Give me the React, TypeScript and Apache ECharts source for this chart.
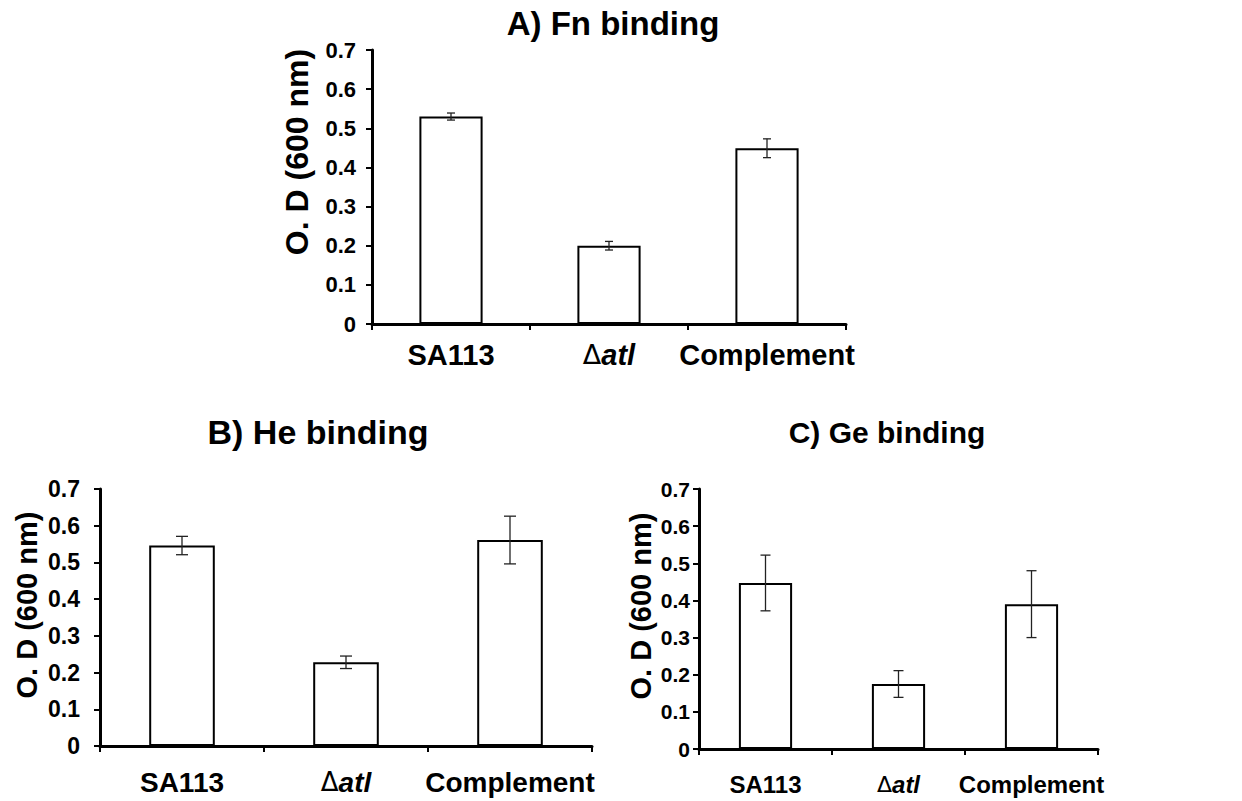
import React, { useEffect, useRef } from "react";
import * as echarts from "echarts";

const categories = ["SA113", "Δatl", "Complement"];
const yTicks = [0, 0.1, 0.2, 0.3, 0.4, 0.5, 0.6, 0.7];

const fnMeans = [0.53, 0.2, 0.449];
const fnErr = [0.009, 0.011, 0.024];
const heMeans = [0.546, 0.228, 0.561];
const heErr = [0.025, 0.017, 0.065];
const geMeans = [0.447, 0.175, 0.39];
const geErr = [0.075, 0.036, 0.09];

const titles = ["A) Fn binding", "B) He binding", "C) Ge binding"];
const yName = "O. D (600 nm)";

const FONT = "'Liberation Sans', Arial, sans-serif";

export default function App() {
  const ref = useRef<HTMLDivElement>(null);
  useEffect(() => {
    if (!ref.current) return;
    const chart = echarts.init(ref.current, null, { renderer: "svg" });

    const panels = [
      { grid: { left: 372, top: 50, width: 474, height: 274 }, means: fnMeans, err: fnErr, tick: 22, xl: 29, xm: 16, ym: 16, cap: 8 },
      { grid: { left: 100, top: 489, width: 492, height: 257 }, means: heMeans, err: heErr, tick: 23, xl: 28, xm: 22, ym: 20, cap: 12 },
      { grid: { left: 699, top: 489, width: 399, height: 260 }, means: geMeans, err: geErr, tick: 21, xl: 24, xm: 23, ym: 9, cap: 10 },
    ];

    const grid = panels.map((p) => ({ ...p.grid, containLabel: false }));
    const xAxis = panels.map((p, i) => ({
      type: "category",
      gridIndex: i,
      data: categories,
      axisLine: { lineStyle: { color: "#000", width: 3 } },
      axisTick: { show: true, length: 6, lineStyle: { color: "#000", width: 2 } },
      axisLabel: {
        interval: 0,
        hideOverlap: false,
        margin: p.xm,
        color: "#000",
        fontFamily: FONT,
        fontWeight: "bold",
        fontSize: p.xl,
        formatter: (v: string) => (v === "Δatl" ? "{d|Δ}{i|atl}" : v),
        rich: {
          d: { fontFamily: "'DejaVu Sans', sans-serif", fontWeight: "normal", fontSize: p.xl - 2, color: "#000" },
          i: { fontFamily: FONT, fontWeight: "bold", fontStyle: "italic", fontSize: p.xl, color: "#000" },
        },
      },
    }));
    const yAxis = panels.map((p, i) => ({
      type: "value",
      gridIndex: i,
      min: yTicks[0],
      max: yTicks[yTicks.length - 1],
      interval: 0.1,
      splitLine: { show: false },
      axisLine: { show: true, lineStyle: { color: "#000", width: 3 } },
      axisTick: { show: true, length: 6, lineStyle: { color: "#000", width: 2 } },
      axisLabel: {
        margin: p.ym,
        color: "#000",
        fontFamily: FONT,
        fontWeight: "bold",
        fontSize: p.tick,
        formatter: (v: number) => (v === 0 ? "0" : v.toFixed(1)),
      },
    }));

    const series: any[] = [];
    panels.forEach((p, i) => {
      series.push({
        type: "bar",
        xAxisIndex: i,
        yAxisIndex: i,
        data: p.means,
        barCategoryGap: "60%",
        itemStyle: { color: "#fff", borderColor: "#000", borderWidth: 2 },
      });
      const cap = p.cap;
      series.push({
        type: "custom",
        xAxisIndex: i,
        yAxisIndex: i,
        z: 5,
        encode: { x: 0, y: [1, 2] },
        data: p.means.map((m, j) => [j, m - p.err[j], m + p.err[j]]),
        renderItem: (params: any, api: any) => {
          const x = api.value(0);
          const lo = api.coord([x, api.value(1)]);
          const hi = api.coord([x, api.value(2)]);
          const style = { stroke: "#222", lineWidth: 1.3 };
          return {
            type: "group",
            children: [
              { type: "line", shape: { x1: lo[0], y1: lo[1], x2: hi[0], y2: hi[1] }, style },
              { type: "line", shape: { x1: hi[0] - cap / 2, y1: hi[1], x2: hi[0] + cap / 2, y2: hi[1] }, style },
              { type: "line", shape: { x1: lo[0] - cap / 2, y1: lo[1], x2: lo[0] + cap / 2, y2: lo[1] }, style },
            ],
          };
        },
      });
    });

    const titleDefs = [
      { x: 613, y: 27, size: 33 },
      { x: 318, y: 435, size: 34 },
      { x: 887, y: 435, size: 30 },
    ];
    const title = titleDefs.map((t, i) => ({
      text: titles[i],
      left: t.x,
      top: t.y - t.size * 0.6,
      textAlign: "center",
      padding: 0,
      textStyle: { fontFamily: FONT, fontWeight: "bold", fontSize: t.size, color: "#000" },
    }));

    const yNameDefs = [
      { x: 297, y: 152, size: 32 },
      { x: 27, y: 605, size: 29 },
      { x: 641, y: 606, size: 29 },
    ];
    const graphic = yNameDefs.map((d) => ({
      type: "text",
      x: d.x,
      y: d.y,
      rotation: Math.PI / 2,
      style: {
        text: yName,
        fontFamily: FONT,
        fontWeight: "bold",
        fontSize: d.size,
        fill: "#000",
        align: "center",
        verticalAlign: "middle",
      },
    }));

    chart.setOption({
      animation: false,
      backgroundColor: "#fff",
      title,
      grid,
      xAxis,
      yAxis,
      series,
      graphic,
    });
    return () => chart.dispose();
  }, []);

  return (
    <div
      ref={ref}
      style={{ position: "fixed", left: 0, top: 0, width: 1242, height: 801, background: "#fff" }}
    />
  );
}
